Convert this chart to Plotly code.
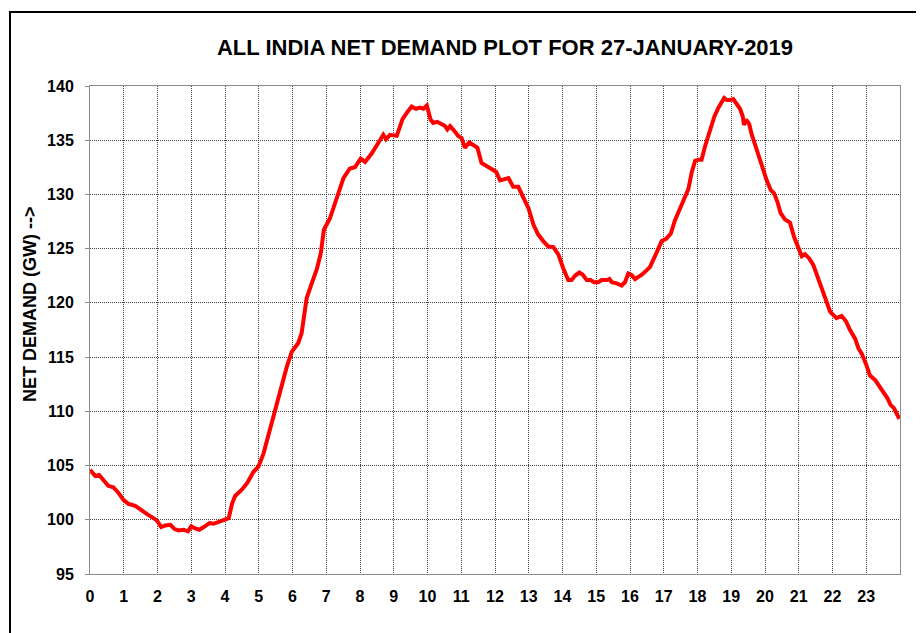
import plotly.graph_objects as go

# Hour of day (x) and all-India net demand in GW (y)
hours = [
    0.00, 0.03, 0.15, 0.27, 0.40, 0.54, 0.69, 0.84, 0.99, 1.14, 1.34, 1.49, 1.68, 1.88, 1.98,
    2.11, 2.23, 2.38, 2.51, 2.62, 2.77, 2.90, 3.00, 3.12, 3.24, 3.37, 3.54, 3.66, 3.81, 3.99,
    4.11, 4.21, 4.30, 4.49, 4.66, 4.84, 4.99, 5.14, 5.33, 5.58, 5.83, 5.98, 6.17, 6.27, 6.37,
    6.42, 6.57, 6.72, 6.84, 6.93, 7.11, 7.31, 7.51, 7.70, 7.85, 8.02, 8.15, 8.35, 8.54, 8.69,
    8.77, 8.89, 9.09, 9.26, 9.38, 9.53, 9.66, 9.78, 9.88, 9.98, 10.09, 10.17, 10.29, 10.42,
    10.52, 10.59, 10.67, 10.81, 10.91, 11.01, 11.11, 11.24, 11.36, 11.48, 11.60, 11.75, 11.90,
    12.03, 12.15, 12.30, 12.40, 12.54, 12.69, 12.84, 12.99, 13.14, 13.28, 13.43, 13.58, 13.73,
    13.88, 14.02, 14.17, 14.27, 14.37, 14.50, 14.60, 14.72, 14.83, 14.93, 15.06, 15.16, 15.31,
    15.39, 15.46, 15.61, 15.75, 15.85, 15.95, 16.05, 16.15, 16.25, 16.35, 16.49, 16.59, 16.71,
    16.84, 16.94, 17.07, 17.21, 17.33, 17.46, 17.60, 17.73, 17.83, 17.93, 18.02, 18.12, 18.22,
    18.37, 18.50, 18.62, 18.72, 18.79, 18.87, 18.96, 19.06, 19.16, 19.26, 19.34, 19.38, 19.44,
    19.53, 19.60, 19.70, 19.83, 19.95, 20.05, 20.17, 20.27, 20.37, 20.46, 20.59, 20.74, 20.86,
    20.96, 21.09, 21.18, 21.31, 21.43, 21.55, 21.68, 21.81, 21.93, 22.02, 22.12, 22.27, 22.40,
    22.52, 22.67, 22.77, 22.87, 23.00, 23.11, 23.26, 23.39, 23.51, 23.63, 23.72, 23.82, 23.90,
    23.98,
]
net_demand_gw = [
    104.6, 104.5, 104.05, 104.14, 103.68, 103.13, 103.0, 102.5, 101.84, 101.47, 101.29, 100.92, 100.55, 100.15, 99.94,
    99.33, 99.48, 99.54, 99.14, 99.02, 99.08, 98.93, 99.39, 99.2, 99.08, 99.33, 99.69, 99.63, 99.78, 99.94,
    100.15, 101.5, 102.2, 102.75, 103.4, 104.4, 104.9, 106.1, 108.4, 111.3, 114.1, 115.5, 116.3, 117.2, 119.1,
    120.45, 121.8, 123.1, 124.6, 126.75, 127.8, 129.8, 131.5, 132.4, 132.5, 133.3, 133.0, 133.8, 134.75, 135.5,
    135.1, 135.5, 135.4, 136.95, 137.5, 138.1, 137.9, 138.0, 137.9, 138.2, 136.9, 136.6, 136.7, 136.5,
    136.3, 136.0, 136.3, 135.8, 135.4, 135.2, 134.3, 134.8, 134.6, 134.3, 132.9, 132.6, 132.3,
    132.1, 131.3, 131.4, 131.5, 130.7, 130.7, 129.7, 128.75, 127.2, 126.3, 125.7, 125.2, 125.15,
    124.45, 123.2, 122.1, 122.1, 122.5, 122.8, 122.6, 122.1, 122.1, 121.9, 121.9, 122.1, 122.1,
    122.2, 121.9, 121.8, 121.6, 121.9, 122.7, 122.55, 122.2, 122.4, 122.6, 123.0, 123.3, 124.1,
    125.0, 125.7, 125.9, 126.4, 127.6, 128.5, 129.4, 130.5, 132.05, 133.1, 133.2, 133.2, 134.4,
    136.0, 137.2, 138.0, 138.5, 138.9, 138.7, 138.7, 138.8, 138.3, 137.9, 137.2, 136.4, 136.9,
    136.5, 135.6, 134.6, 133.6, 132.2, 131.3, 130.4, 130.1, 129.3, 128.3, 127.7, 127.4, 126.1,
    125.4, 124.3, 124.5, 124.1, 123.5, 122.4, 121.4, 120.3, 119.2, 118.9, 118.6, 118.8, 118.3,
    117.5, 116.7, 115.8, 115.3, 114.3, 113.3, 112.9, 112.3, 111.6, 111.2, 110.6, 110.3, 109.8,
    109.3,
]
x_tick_vals = list(range(0, 24))
x_tick_text = [str(h) for h in x_tick_vals]
y_tick_vals = [95, 100, 105, 110, 115, 120, 125, 130, 135, 140]

title_text = "ALL INDIA NET DEMAND PLOT FOR 27-JANUARY-2019"
y_title_text = "NET DEMAND (GW) -->"

FONT = "Arial, 'Liberation Sans', sans-serif"

fig = go.Figure()
fig.add_trace(go.Scatter(
    x=hours, y=net_demand_gw, mode="lines",
    line=dict(color="#ff0000", width=4),
    showlegend=False, hoverinfo="x+y",
))

# The page body has an 8px default margin, so target screen pixels are shifted
OFF = 8
W, H = 924, 633
# Target plot area on screen: left 90, right 900, top 86, bottom 574
L, R, T, B = 90 - OFF, 900 - OFF, 86 - OFF, 574 - OFF
pw, ph = R - L, B - T

def px_to_paper_x(px):
    return (px - OFF - L) / pw

def px_to_paper_y(py):
    return (B - (py - OFF)) / ph

grid_common = dict(
    showgrid=True, gridcolor="#404040", gridwidth=1, griddash="1px,1px",
    showline=True, linecolor="#8c8c8c", linewidth=1, mirror=True,
    zeroline=False,
    tickfont=dict(family=FONT, size=16, color="#000000", weight="bold"),
)

fig.update_layout(
    width=W, height=H,
    margin=dict(l=L, r=W - R, t=T, b=H - B, pad=0),
    paper_bgcolor="#ffffff", plot_bgcolor="#ffffff",
    font=dict(family=FONT, color="#000000"),
    title=dict(
        text=title_text, x=px_to_paper_x(505), xref="paper", xanchor="center",
        y=1 - (47 - OFF) / H, yref="container", yanchor="middle",
        font=dict(family=FONT, size=22, color="#000000", weight="bold"),
    ),
    xaxis=dict(
        range=[0, 24], tickmode="array", tickvals=x_tick_vals, ticktext=x_tick_text,
        ticks="", ticklabelstandoff=8, **grid_common,
    ),
    yaxis=dict(
        range=[95, 140], tickmode="array", tickvals=y_tick_vals,
        ticks="outside", ticklen=4, tickcolor="#8c8c8c", ticklabelstandoff=8,
        **grid_common,
    ),
    annotations=[dict(
        text=y_title_text, textangle=-90, showarrow=False,
        xref="paper", yref="paper", x=px_to_paper_x(30), y=px_to_paper_y(305),
        xanchor="center", yanchor="middle",
        font=dict(family=FONT, size=18, color="#000000", weight="bold"),
    )],
    shapes=[dict(
        type="rect", xref="paper", yref="paper", layer="above",
        x0=px_to_paper_x(10), x1=px_to_paper_x(950),
        y0=px_to_paper_y(660), y1=px_to_paper_y(12),
        line=dict(color="#000000", width=2), fillcolor="rgba(0,0,0,0)",
    )],
)

fig.write_html("out.html")
